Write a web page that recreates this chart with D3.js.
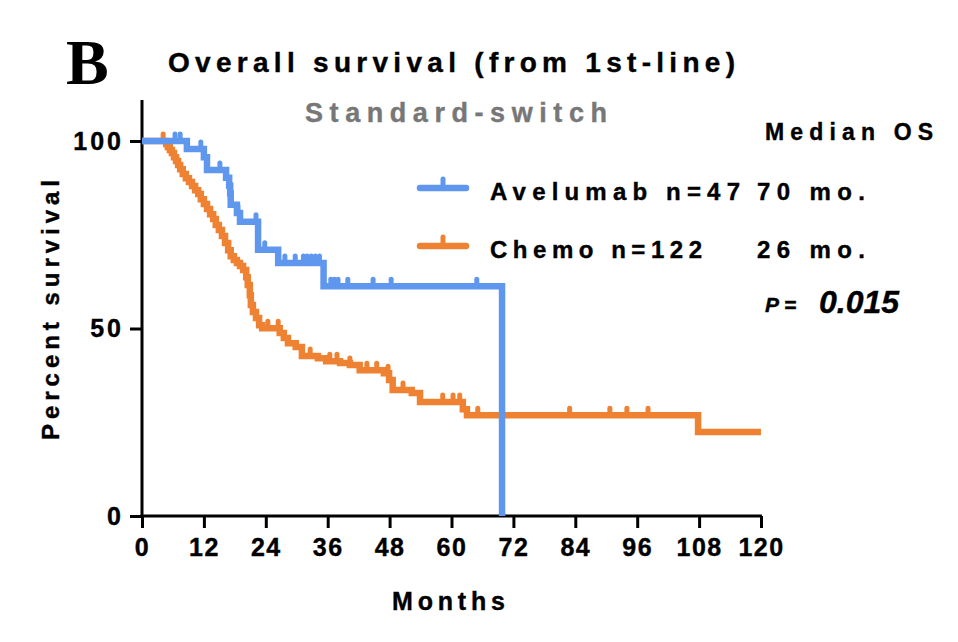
<!DOCTYPE html>
<html><head><meta charset="utf-8">
<script src="https://cdn.jsdelivr.net/npm/d3@7"></script>
<style>
html,body{margin:0;padding:0;background:#fff;}
svg{display:block;}
</style></head>
<body>
<svg id="c" width="958" height="642"></svg>
<script>
// ---- data ----
const xTicks = [0,12,24,36,48,60,72,84,96,108,120];
const yTicks = [0,50,100];

const aveTimes = [0, 8.7, 12.0, 12.6, 16.3, 16.9, 17.1, 17.2, 18.4, 19.0, 22.5, 26.4, 35.2, 69.8];
const aveSurv  = [100, 97.9, 95.7, 92.3, 90.2, 88.1, 86.0, 83.0, 80.8, 78.5, 71.0, 67.5, 61.3, 0];
const aveCensor = [6.4, 7.4, 11.4, 15.1, 18.6, 22.1, 23.8, 27.7, 29.7, 31.3, 32.0, 32.8, 33.6, 34.4, 36.6, 37.3, 38.0, 39.9, 44.8, 48.3, 64.9];

const chemoTimes = [0, 4.7, 5.0, 5.4, 5.8, 6.2, 6.6, 7.0, 7.4, 7.9, 8.5, 9.1, 9.7, 10.3, 10.9, 11.4, 12.0, 12.6, 13.2, 13.8, 14.3, 14.9, 15.5, 16.1, 16.7, 17.2, 17.8, 18.4, 19.0, 19.6, 20.2, 20.5, 20.9, 21.1, 21.5, 22.1, 22.7, 23.3, 26.7, 27.5, 28.3, 29.8, 31.0, 34.1, 35.7, 38.4, 40.3, 42.2, 46.9, 47.9, 48.6, 52.3, 53.9, 62.2, 63.0, 107.8, 120];
const chemoSurv  = [100, 99.2, 98.4, 97.6, 96.8, 95.7, 94.7, 93.6, 92.5, 91.2, 90.1, 89.1, 88.0, 86.9, 85.9, 84.5, 83.2, 81.9, 80.5, 79.2, 77.6, 76.3, 74.7, 72.8, 70.9, 69.3, 68.3, 67.5, 66.7, 65.6, 63.7, 61.6, 58.9, 56.3, 54.4, 52.8, 50.9, 50.1, 48.8, 47.5, 46.1, 45.1, 42.7, 42.1, 41.3, 40.8, 40.3, 38.9, 38.1, 36.3, 33.6, 32.8, 30.4, 28.5, 26.9, 22.4, 22.4];
const chemoCensor = [4.1, 24.4, 26.4, 32.6, 36.4, 37.8, 40.3, 43.6, 45.5, 47.7, 50.6, 53.9, 58.3, 60.3, 61.6, 65.1, 82.9, 90.7, 94.0, 98.1];

const seriesNames = ["Avelumab n=47", "Chemo n=122"];
const medians = ["70 mo.", "26 mo."];
const colors = ["#5f97ef", "#ee8232"];

// ---- drawing ----
const svg = d3.select("#c");
const x = d3.scaleLinear().domain([0,120]).range([142,761]);
const y = d3.scaleLinear().domain([0,100]).range([516,141]);

const bold = "'Liberation Sans', Arial, sans-serif";
const narrow = "'Liberation Sans Narrow', 'Arial Narrow', 'Liberation Sans', sans-serif";

function heavy(sel, col){ return sel.attr("stroke", col || "#000").attr("stroke-width",0.4); }

// panel letter
svg.append("text").attr("x",66).attr("y",84)
  .attr("font-family","'Liberation Serif','Times New Roman',serif")
  .attr("font-weight","bold").attr("font-size",64).text("B");

// title
heavy(svg.append("text").attr("x",168).attr("y",72)
  .attr("font-family",bold).attr("font-weight","bold").attr("font-size",28)
  .attr("textLength",567).attr("lengthAdjust","spacing")
  .text("Overall survival (from 1st-line)"));

heavy(svg.append("text").attr("x",305).attr("y",122)
  .attr("font-family",bold).attr("font-weight","bold").attr("font-size",27)
  .attr("fill","#777777")
  .attr("textLength",302).attr("lengthAdjust","spacing")
  .text("Standard-switch"), "#777777");

// axes
const gx = svg.append("g").attr("transform","translate(0,516)")
  .call(d3.axisBottom(x).tickValues(xTicks).tickSize(12).tickSizeOuter(0).tickPadding(10));
gx.select(".domain").remove();
gx.selectAll(".tick line").attr("stroke","#000").attr("stroke-width",3);
heavy(gx.selectAll(".tick text").attr("font-family",narrow).attr("font-weight","bold")
  .attr("font-size",25).attr("fill","#000").attr("letter-spacing","1.5px"));

const gy = svg.append("g").attr("transform","translate(142,0)")
  .call(d3.axisLeft(y).tickValues(yTicks).tickSize(12).tickSizeOuter(0).tickPadding(6));
gy.select(".domain").remove();
gy.selectAll(".tick line").attr("stroke","#000").attr("stroke-width",3);
heavy(gy.selectAll(".tick text").attr("font-family",narrow).attr("font-weight","bold")
  .attr("font-size",25).attr("fill","#000").attr("letter-spacing","3px"));

svg.append("line").attr("x1",142).attr("x2",142).attr("y1",100).attr("y2",517.5)
  .attr("stroke","#000").attr("stroke-width",3);
svg.append("line").attr("x1",140.5).attr("x2",762).attr("y1",516).attr("y2",516)
  .attr("stroke","#000").attr("stroke-width",3);

// axis titles
heavy(svg.append("text").attr("transform","translate(59,440) rotate(-90)")
  .attr("font-family",bold).attr("font-weight","bold").attr("font-size",24)
  .attr("textLength",260).attr("lengthAdjust","spacing")
  .text("Percent survival"));
heavy(svg.append("text").attr("x",392).attr("y",610)
  .attr("font-family",bold).attr("font-weight","bold").attr("font-size",25)
  .attr("textLength",113).attr("lengthAdjust","spacing")
  .text("Months"));

// KM curves
function stepValue(times, surv, t){
  let v = surv[0];
  for(let i=0;i<times.length;i++){ if(times[i] <= t) v = surv[i]; }
  return v;
}
const line = d3.line().x(d=>x(d[0])).y(d=>y(d[1])).curve(d3.curveStepAfter);
const series = [
  {times:chemoTimes, surv:chemoSurv, cens:chemoCensor, color:colors[1]},
  {times:aveTimes, surv:aveSurv, cens:aveCensor, color:colors[0]}
];
series.forEach(s=>{
  const pts = s.times.map((t,i)=>[t,s.surv[i]]);
  svg.append("path").attr("d",line(pts)).attr("fill","none")
    .attr("stroke",s.color).attr("stroke-width",6.5).attr("stroke-linejoin","miter");
  svg.append("g").selectAll("line").data(s.cens).join("line")
    .attr("x1",d=>x(d)).attr("x2",d=>x(d))
    .attr("y1",d=>y(stepValue(s.times,s.surv,d)))
    .attr("y2",d=>y(stepValue(s.times,s.surv,d))-7)
    .attr("stroke",s.color).attr("stroke-width",5).attr("stroke-linecap","round");
});

// legend
const legY = [188, 246];
seriesNames.forEach((name,i)=>{
  const g = svg.append("g");
  g.append("line").attr("x1",420).attr("x2",466).attr("y1",legY[i]).attr("y2",legY[i])
    .attr("stroke",colors[i]).attr("stroke-width",6.5).attr("stroke-linecap","round");
  g.append("line").attr("x1",443).attr("x2",443).attr("y1",legY[i]).attr("y2",legY[i]-9)
    .attr("stroke",colors[i]).attr("stroke-width",5).attr("stroke-linecap","round");
  heavy(g.append("text").attr("x",490).attr("y",legY[i]+12)
    .attr("font-family",bold).attr("font-weight","bold").attr("font-size",24)
    .attr("textLength", i===0?250:212).attr("lengthAdjust","spacing")
    .text(name));
  heavy(g.append("text").attr("x",757).attr("y",legY[i]+12)
    .attr("font-family",bold).attr("font-weight","bold").attr("font-size",24)
    .attr("textLength",108).attr("lengthAdjust","spacing")
    .text(medians[i]));
});

heavy(svg.append("text").attr("x",765).attr("y",140)
  .attr("font-family",bold).attr("font-weight","bold").attr("font-size",23)
  .attr("textLength",168).attr("lengthAdjust","spacing")
  .text("Median OS"));

heavy(svg.append("text").attr("x",765).attr("y",312)
  .attr("font-family",bold).attr("font-weight","bold").attr("font-style","italic").attr("font-size",21)
  .text("P ="));
heavy(svg.append("text").attr("x",819).attr("y",313)
  .attr("font-family",bold).attr("font-weight","bold").attr("font-style","italic").attr("font-size",32)
  .text("0.015"));
</script>
</body></html>
